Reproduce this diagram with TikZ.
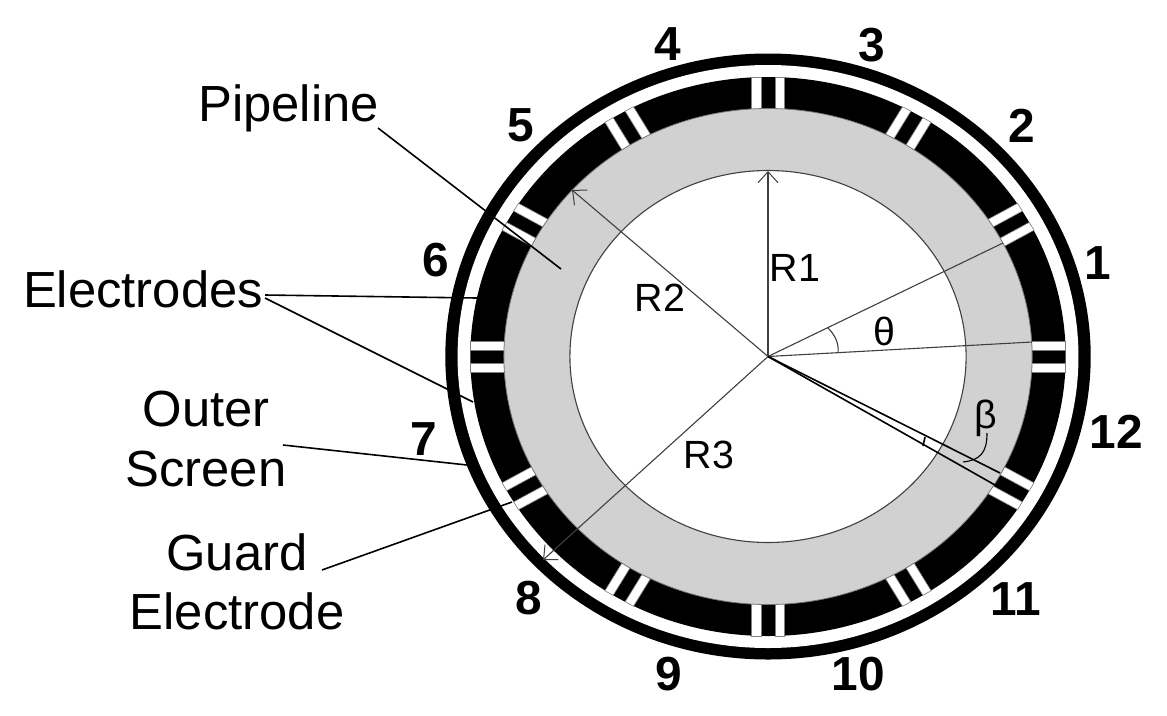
\documentclass[tikz,border=0pt]{standalone}
\usepackage{fontspec}
\setmainfont{Liberation Sans}
\usetikzlibrary{arrows.meta}
\tikzset{
  num/.style={font=\fontsize{13.6}{13.6}\selectfont\bfseries, inner sep=0pt},
  lab/.style={font=\fontsize{14.45}{16.9}\selectfont, align=center, inner sep=0pt},
  sym/.style={font=\fontsize{11.2}{13}\selectfont, inner sep=0pt},
  thin line/.style={draw=black!75, line width=0.11mm},
  leader/.style={draw=black, line width=0.16mm},
  dim line/.style={thin line, -{Straight Barb[length=1.1mm,width=2mm,line width=0.1mm]}}
}
\begin{document}
\begin{tikzpicture}
  \useasboundingbox (0,0) rectangle (11.67,7.15);
  \coordinate (o) at (7.68,3.585);
  % rings
  \begin{scope}[shift={(o)}, xscale=1.065]
    \fill[black] (0,0) circle (3.03);
    \fill[white] (0,0) circle (2.915);
    \fill[black] (0,0) circle (2.795);
    \foreach \a in {0,30,...,330} {
      \begin{scope}[rotate=\a]
        \filldraw[fill=white, draw=black!50, line width=0.06mm] (2.47,0.065) rectangle (2.795,0.155);
        \filldraw[fill=white, draw=black!50, line width=0.06mm] (2.47,-0.065) rectangle (2.795,-0.155);
      \end{scope}
    }
    \filldraw[fill=black!18, draw=black!55, line width=0.08mm] (0,0) circle (2.48);
    \filldraw[fill=white, thin line] (0,0) circle (1.86);
  \end{scope}

  % end points of the lines
  \coordinate (r1) at (7.68,5.44);
  \coordinate (r2) at (5.72,5.25);
  \coordinate (r3) at (5.43,1.55);
  \coordinate (t1) at (10.03,4.72);
  \coordinate (t2) at (10.32,3.73);
  \coordinate (t3) at (8.38,3.62);
  \coordinate (t4) at (8.28,3.87);
  \coordinate (b1) at (10.00,2.42);
  \coordinate (b2) at (9.95,2.30);
  \coordinate (b3) at (9.25,2.78);
  \coordinate (b4) at (9.23,2.69);
  \coordinate (p1) at (5.61,4.46);
  \coordinate (e1) at (4.77,4.17);
  \coordinate (e2) at (4.73,3.13);
  \coordinate (s1) at (4.67,2.50);
  \coordinate (g1) at (5.12,2.13);

  \draw[dim line] (o) -- (r1);
  \draw[dim line] (o) -- (r2);
  \draw[dim line] (o) -- (r3);
  \draw[thin line] (o) -- (t1);
  \draw[thin line] (o) -- (t2);
  \draw[leader] (o) -- (b1);
  \draw[leader] (o) -- (b2);
  \draw[leader] (b3) -- (b4);
  \draw[thin line] (t3) .. controls (8.39,3.72) and (8.35,3.80) .. (t4);

  % labels
  \node[lab] (pipeline) at (2.885,6.07) {Pipeline};
  \node[lab] (electrodes) at (1.43,4.26) {Electrodes};
  \node[lab] (screen) at (2.06,2.76) {Outer\\Screen};
  \node[lab] (guard) at (2.37,1.33) {Guard\\Electrode};
  \node[sym] (rone) at (7.95,4.47) {R1};
  \node[sym] (rtwo) at (6.60,4.17) {R2};
  \node[sym] (rthree) at (7.09,2.60) {R3};
  \node[sym] (theta) at (8.84,3.84) {θ};
  \node[sym] (beta) at (9.86,2.97) {β};

  \draw[leader] (3.78,5.87) -- (p1);
  \draw[leader] (2.65,4.20) -- (e1);
  \draw[leader] (2.65,4.17) -- (e2);
  \draw[leader] (2.83,2.70) -- (s1);
  \draw[leader] (3.22,1.45) -- (g1);
  \draw[thin line, black] (9.87,2.82) .. controls (9.87,2.62) and (9.80,2.55) .. (9.63,2.53);

  % electrode numbers
  \node[num] (n1) at (10.98,4.52) {1};
  \node[num] (n2) at (10.22,5.89) {2};
  \node[num] (n3) at (8.72,6.70) {3};
  \node[num] (n4) at (6.68,6.71) {4};
  \node[num] (n5) at (5.21,5.90) {5};
  \node[num] (n6) at (4.36,4.55) {6};
  \node[num] (n7) at (4.24,2.76) {7};
  \node[num] (n8) at (5.29,1.17) {8};
  \node[num] (n9) at (6.69,0.41) {9};
  \node[num] (n10) at (8.58,0.41) {10};
  \node[num] (n11) at (10.16,1.16) {11};
  \node[num] (n12) at (11.16,2.83) {12};
\end{tikzpicture}
\end{document}
